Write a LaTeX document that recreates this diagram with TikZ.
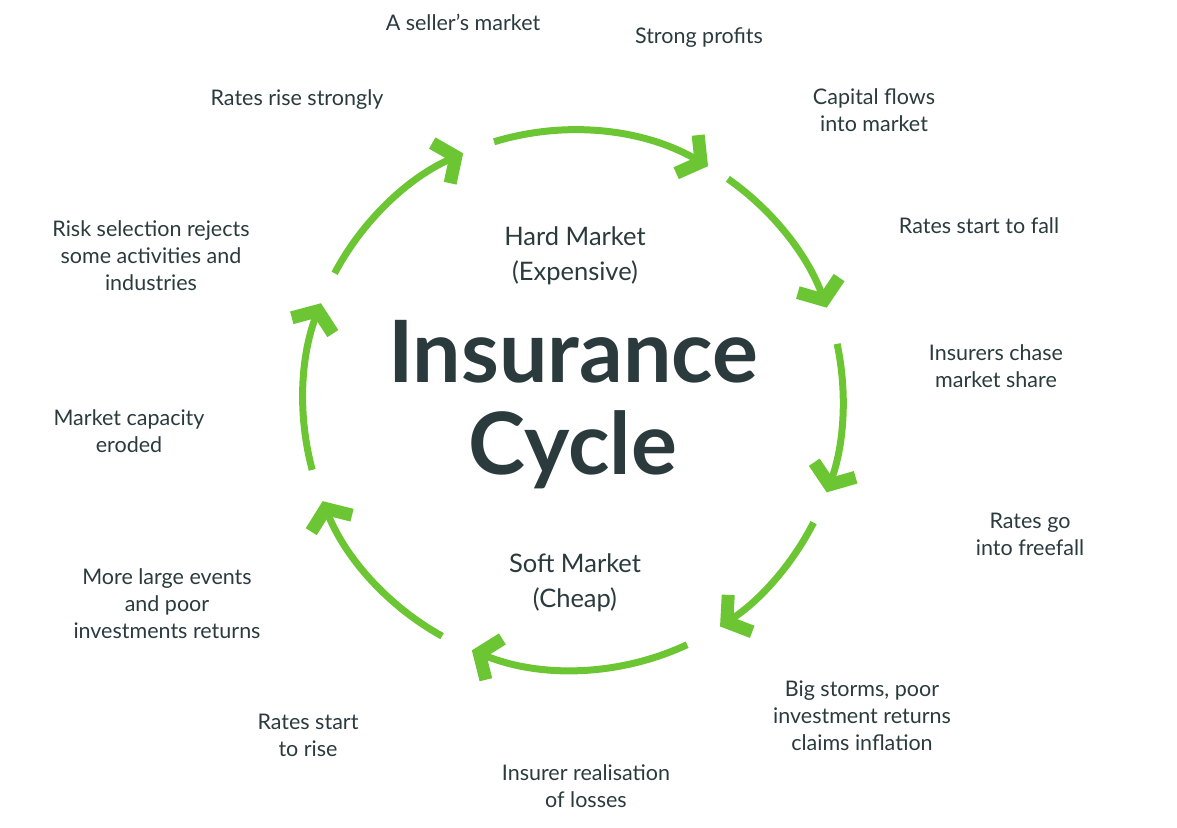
\documentclass[tikz,border=0pt]{standalone}
\usepackage{fontspec}
\setmainfont{Lato}
\usetikzlibrary{arrows.meta}
\definecolor{gr}{HTML}{6CC633}
\definecolor{tx}{HTML}{2A3A3D}
\begin{document}
\begin{tikzpicture}[x=1pt,y=1pt,
  seg/.style={gr,line width=7pt,-{Straight Barb[length=16pt,width=44pt,line width=13pt,line cap=butt,line join=miter]}},
  lab/.style={tx,font=\fontsize{21.5}{27}\selectfont,align=center}]
\useasboundingbox (0,0) rectangle (1177,-827);
\coordinate (c) at (573,-400);
\foreach \a/\b in {152/114,107/60,55/20,12/-20,-27/-57,-65/-112,-119/-158,-165/-201}{
  \draw[seg] ([shift={(c)}]\a:270pt) arc[start angle=\a,end angle=\b,radius=270pt];
}
\node[tx,font=\fontsize{86}{96}\selectfont\bfseries,align=center] (t) at (573,-405) {Insurance\\[-4pt]Cycle};
\node[lab,font=\fontsize{25.5}{35}\selectfont] (h) at (575,-256) {Hard Market\\(Expensive)};
\node[lab,font=\fontsize{25.5}{35}\selectfont] (s) at (575,-583) {Soft Market\\(Cheap)};
\node[lab] (l1) at (463,-22) {A seller’s market};
\node[lab] (l2) at (699,-38) {Strong profits};
\node[lab] (l3) at (874,-110) {Capital flows\\into market};
\node[lab] (l4) at (979,-226) {Rates start to fall};
\node[lab] (l5) at (996,-366) {Insurers chase\\market share};
\node[lab] (l6) at (1030,-534) {Rates go\\into freefall};
\node[lab] (l7) at (862,-716) {Big storms, poor\\investment returns\\claims inflation};
\node[lab] (l8) at (586,-786) {Insurer realisation\\of losses};
\node[lab] (l9) at (308,-735) {Rates start\\to rise};
\node[lab] (l10) at (167,-604) {More large events\\and poor\\investments returns};
\node[lab] (l11) at (129,-431) {Market capacity\\eroded};
\node[lab] (l12) at (151,-256) {Risk selection rejects\\some activities and\\industries};
\node[lab] (l13) at (297,-100) {Rates rise strongly};
\end{tikzpicture}
\end{document}
